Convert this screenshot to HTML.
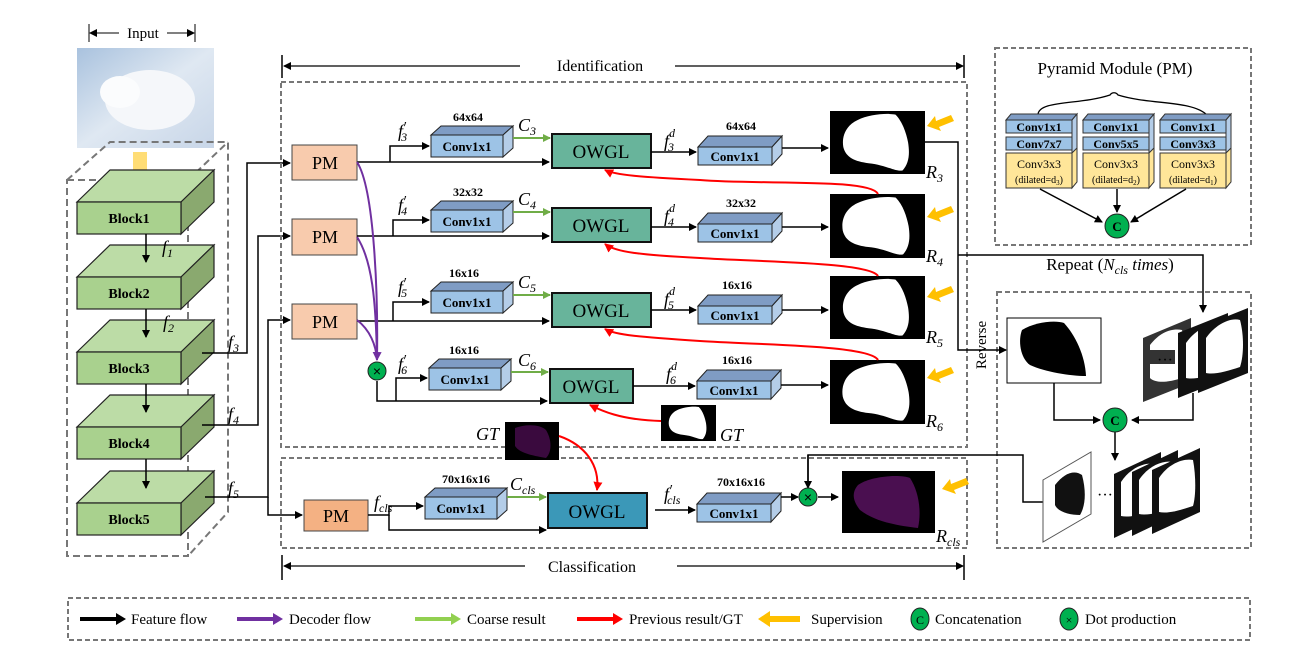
<!DOCTYPE html>
<html><head><meta charset="utf-8"><style>
html,body{margin:0;padding:0;background:#fff;}
svg{display:block;font-family:"Liberation Serif",serif;}
.b{font-family:"Liberation Serif",serif;font-weight:bold;}
</style></head><body>
<svg width="1304" height="666" viewBox="0 0 1304 666" xmlns="http://www.w3.org/2000/svg">
<defs>
<marker id="ak" markerWidth="8" markerHeight="8" refX="7" refY="4" orient="auto-start-reverse" markerUnits="userSpaceOnUse"><path d="M0,0 L8,4 L0,8z" fill="#000"/></marker>
<marker id="ag" markerWidth="8" markerHeight="8" refX="7" refY="4" orient="auto" markerUnits="userSpaceOnUse"><path d="M0,0 L8,4 L0,8z" fill="#70ad47"/></marker>
<marker id="ar" markerWidth="9" markerHeight="9" refX="8" refY="4.5" orient="auto" markerUnits="userSpaceOnUse"><path d="M0,0 L9,4.5 L0,9z" fill="#f00"/></marker>
<marker id="ap" markerWidth="9" markerHeight="9" refX="8" refY="4.5" orient="auto" markerUnits="userSpaceOnUse"><path d="M0,0 L9,4.5 L0,9z" fill="#7030a0"/></marker>
<symbol id="blob" viewBox="0 0 100 70"><path d="M28,10 C40,4 60,2 70,4 C78,12 82,25 84,35 C86,48 85,58 78,66 C70,68 60,60 40,58 C25,56 15,52 12,40 C10,28 15,16 28,10z" fill="#fff"/></symbol>
<symbol id="sup" viewBox="0 0 30 20"><path d="M2,14 L10,4 L11,9 L26,3 L29,9 L14,15 L16,19z" fill="#ffc000"/></symbol>
</defs>

<!-- Input -->
<text x="143" y="38" font-size="15" text-anchor="middle">Input</text>
<line x1="90" y1="33" x2="119" y2="33" stroke="#000" marker-start="url(#ak)"/>
<line x1="167" y1="33" x2="194" y2="33" stroke="#000" marker-end="url(#ak)"/>
<line x1="89" y1="24" x2="89" y2="42" stroke="#000"/><line x1="195" y1="24" x2="195" y2="42" stroke="#000"/>
<defs><linearGradient id="snow" x1="0" y1="0" x2="1" y2="1"><stop offset="0" stop-color="#a9c2de"/><stop offset="0.5" stop-color="#dfe8f2"/><stop offset="1" stop-color="#c8d6e8"/></linearGradient></defs>
<rect x="77" y="48" width="137" height="100" fill="url(#snow)"/>
<ellipse cx="150" cy="100" rx="45" ry="30" fill="#f5f7fa"/>
<ellipse cx="120" cy="92" rx="20" ry="16" fill="#fbfcfd"/>

<!-- backbone dashed 3D box -->
<g stroke="#777" stroke-width="2" stroke-dasharray="7,4" fill="none">
<rect x="67" y="180" width="121" height="376"/>
<path d="M67,180 L110,142 L228,142 L228,512 L188,556 M188,180 L228,142"/>
</g>
<path d="M133,152 h14 v20 h7 l-14,14 l-14,-14 h7z" fill="#ffd966" opacity="0.9"/>

<g stroke="#222" stroke-width="1.2">
<path d="M77,202 L110,170 L214,170 L181,202z" fill="#bcdca6"/><path d="M181,202 L214,170 L214,202 L181,234z" fill="#8aa96f"/><rect x="77" y="202" width="104" height="32" fill="#a9d18e"/>
<path d="M77,277 L110,245 L214,245 L181,277z" fill="#bcdca6"/><path d="M181,277 L214,245 L214,277 L181,309z" fill="#8aa96f"/><rect x="77" y="277" width="104" height="32" fill="#a9d18e"/>
<path d="M77,352 L110,320 L214,320 L181,352z" fill="#bcdca6"/><path d="M181,352 L214,320 L214,352 L181,384z" fill="#8aa96f"/><rect x="77" y="352" width="104" height="32" fill="#a9d18e"/>
<path d="M77,427 L110,395 L214,395 L181,427z" fill="#bcdca6"/><path d="M181,427 L214,395 L214,427 L181,459z" fill="#8aa96f"/><rect x="77" y="427" width="104" height="32" fill="#a9d18e"/>
<path d="M77,503 L110,471 L214,471 L181,503z" fill="#bcdca6"/><path d="M181,503 L214,471 L214,503 L181,535z" fill="#8aa96f"/><rect x="77" y="503" width="104" height="32" fill="#a9d18e"/>
</g>
<g class="b" font-size="14" text-anchor="middle">
<text x="129" y="223">Block1</text><text x="129" y="298">Block2</text><text x="129" y="373">Block3</text><text x="129" y="448">Block4</text><text x="129" y="524">Block5</text>
</g>
<g stroke="#000" stroke-width="1.5">
<line x1="146" y1="234" x2="146" y2="262" marker-end="url(#ak)"/>
<line x1="146" y1="309" x2="146" y2="337" marker-end="url(#ak)"/>
<line x1="146" y1="384" x2="146" y2="412" marker-end="url(#ak)"/>
<line x1="146" y1="459" x2="146" y2="488" marker-end="url(#ak)"/>
</g>
<g font-style="italic" font-size="18">
<text x="162" y="253">f<tspan font-size="12" dy="4">1</tspan></text>
<text x="163" y="328">f<tspan font-size="12" dy="4">2</tspan></text>
<text x="228" y="348">f<tspan font-size="12" dy="4">3</tspan></text>
<text x="228" y="420">f<tspan font-size="12" dy="4">4</tspan></text>
<text x="228" y="494">f<tspan font-size="12" dy="4">5</tspan></text>
</g>
<g stroke="#000" stroke-width="1.5" fill="none">
<path d="M202,353 H247 V163 H290" marker-end="url(#ak)"/>
<path d="M202,425 H258 V236 H290" marker-end="url(#ak)"/>
<path d="M205,497 H268 V320 H290" marker-end="url(#ak)"/>
<path d="M268,497 V515 H302" marker-end="url(#ak)"/>
</g>

<g stroke="#777" stroke-width="2" stroke-dasharray="5,3" fill="none">
<rect x="281" y="82" width="686" height="365"/>
<rect x="281" y="458" width="686" height="90"/>
<rect x="995" y="48" width="256" height="197"/>
<rect x="997" y="292" width="254" height="256"/>
<rect x="68" y="598" width="1182" height="42"/>
</g>
<text x="600" y="71" font-size="16" text-anchor="middle">Identification</text>
<line x1="284" y1="66" x2="520" y2="66" stroke="#000" stroke-width="1.3" marker-start="url(#ak)"/>
<line x1="675" y1="66" x2="963" y2="66" stroke="#000" stroke-width="1.3" marker-end="url(#ak)"/>
<line x1="282" y1="55" x2="282" y2="78" stroke="#000" stroke-width="1.5"/><line x1="964" y1="55" x2="964" y2="78" stroke="#000" stroke-width="1.5"/>
<text x="592" y="572" font-size="16" text-anchor="middle">Classification</text>
<line x1="284" y1="566" x2="525" y2="566" stroke="#000" stroke-width="1.3" marker-start="url(#ak)"/>
<line x1="677" y1="566" x2="963" y2="566" stroke="#000" stroke-width="1.3" marker-end="url(#ak)"/>
<line x1="282" y1="555" x2="282" y2="580" stroke="#000" stroke-width="1.5"/><line x1="964" y1="555" x2="964" y2="580" stroke="#000" stroke-width="1.5"/>

<g stroke="#444" stroke-width="1">
<rect x="292" y="145" width="65" height="35" fill="#f8cbad"/>
<rect x="292" y="219" width="65" height="36" fill="#f8cbad"/>
<rect x="292" y="304" width="65" height="35" fill="#f8cbad"/>
<rect x="304" y="500" width="64" height="31" fill="#f4b183"/>
</g>
<g font-size="18" text-anchor="middle">
<text x="325" y="169">PM</text><text x="325" y="243">PM</text><text x="325" y="328">PM</text><text x="336" y="522">PM</text>
</g>

<g stroke="#111" stroke-width="2">
<rect x="552" y="134" width="99" height="34" fill="#68b49b"/>
<rect x="552" y="208" width="99" height="34" fill="#68b49b"/>
<rect x="552" y="293" width="99" height="34" fill="#68b49b"/>
<rect x="550" y="369" width="83" height="34" fill="#68b49b"/>
<rect x="548" y="493" width="99" height="35" fill="#3b98b8"/>
</g>
<g font-size="19" text-anchor="middle">
<text x="601" y="158">OWGL</text><text x="601" y="232">OWGL</text><text x="601" y="317">OWGL</text><text x="591" y="393">OWGL</text><text x="597" y="518">OWGL</text>
</g>

<g stroke="#222" stroke-width="1">
<path d="M431,135 L441,126 L513,126 L503,135z" fill="#7f9cc4"/><path d="M503,135 L513,126 L513,148 L503,157z" fill="#b4cde8"/><rect x="431" y="135" width="72" height="22" fill="#9dc3e6"/>
<path d="M431,210 L441,201 L513,201 L503,210z" fill="#7f9cc4"/><path d="M503,210 L513,201 L513,223 L503,232z" fill="#b4cde8"/><rect x="431" y="210" width="72" height="22" fill="#9dc3e6"/>
<path d="M431,291 L441,282 L513,282 L503,291z" fill="#7f9cc4"/><path d="M503,291 L513,282 L513,304 L503,313z" fill="#b4cde8"/><rect x="431" y="291" width="72" height="22" fill="#9dc3e6"/>
<path d="M429,368 L439,359 L511,359 L501,368z" fill="#7f9cc4"/><path d="M501,368 L511,359 L511,381 L501,390z" fill="#b4cde8"/><rect x="429" y="368" width="72" height="22" fill="#9dc3e6"/>
<path d="M425,497 L435,488 L507,488 L497,497z" fill="#7f9cc4"/><path d="M497,497 L507,488 L507,510 L497,519z" fill="#b4cde8"/><rect x="425" y="497" width="72" height="22" fill="#9dc3e6"/>
<path d="M698,147 L708,136 L782,136 L772,147z" fill="#7f9cc4"/><path d="M772,147 L782,136 L782,154 L772,165z" fill="#b4cde8"/><rect x="698" y="147" width="74" height="18" fill="#9dc3e6"/>
<path d="M698,224 L708,213 L782,213 L772,224z" fill="#7f9cc4"/><path d="M772,224 L782,213 L782,231 L772,242z" fill="#b4cde8"/><rect x="698" y="224" width="74" height="18" fill="#9dc3e6"/>
<path d="M698,306 L708,295 L782,295 L772,306z" fill="#7f9cc4"/><path d="M772,306 L782,295 L782,313 L772,324z" fill="#b4cde8"/><rect x="698" y="306" width="74" height="18" fill="#9dc3e6"/>
<path d="M697,381 L707,370 L781,370 L771,381z" fill="#7f9cc4"/><path d="M771,381 L781,370 L781,388 L771,399z" fill="#b4cde8"/><rect x="697" y="381" width="74" height="18" fill="#9dc3e6"/>
<path d="M697,504 L707,493 L781,493 L771,504z" fill="#7f9cc4"/><path d="M771,504 L781,493 L781,511 L771,522z" fill="#b4cde8"/><rect x="697" y="504" width="74" height="18" fill="#9dc3e6"/>
</g>
<g class="b" font-size="13" text-anchor="middle">
<text x="467" y="151">Conv1x1</text><text x="467" y="226">Conv1x1</text><text x="467" y="307">Conv1x1</text><text x="465" y="384">Conv1x1</text><text x="461" y="513">Conv1x1</text>
<text x="735" y="161">Conv1x1</text><text x="735" y="238">Conv1x1</text><text x="735" y="320">Conv1x1</text><text x="734" y="395">Conv1x1</text><text x="734" y="518">Conv1x1</text>
<text x="468" y="121" font-size="12">64x64</text><text x="468" y="196" font-size="12">32x32</text><text x="464" y="277" font-size="12">16x16</text><text x="464" y="354" font-size="12">16x16</text><text x="466" y="483" font-size="12">70x16x16</text>
<text x="741" y="130" font-size="12">64x64</text><text x="741" y="207" font-size="12">32x32</text><text x="737" y="289" font-size="12">16x16</text><text x="737" y="364" font-size="12">16x16</text><text x="741" y="486" font-size="12">70x16x16</text>
</g>

<g stroke="#000" stroke-width="1.5" fill="none">
<path d="M357,162 H549" marker-end="url(#ak)"/><path d="M390,162 V146 H429" marker-end="url(#ak)"/>
<path d="M357,236 H549" marker-end="url(#ak)"/><path d="M393,236 V220 H429" marker-end="url(#ak)"/>
<path d="M357,321 H549" marker-end="url(#ak)"/><path d="M393,321 V302 H429" marker-end="url(#ak)"/>
<path d="M377,381 V401 H547" marker-end="url(#ak)"/><path d="M396,401 V378 H427" marker-end="url(#ak)"/>
<path d="M368,515 H389 V506 H423" marker-end="url(#ak)"/><path d="M389,515 V530 H546" marker-end="url(#ak)"/>
<path d="M651,152 H696" marker-end="url(#ak)"/><path d="M651,227 H696" marker-end="url(#ak)"/><path d="M651,310 H696" marker-end="url(#ak)"/><path d="M633,386 H695" marker-end="url(#ak)"/>
<path d="M655,510 H695" marker-end="url(#ak)"/>
<path d="M782,148 H828" marker-end="url(#ak)"/><path d="M782,227 H828" marker-end="url(#ak)"/><path d="M782,310 H828" marker-end="url(#ak)"/><path d="M781,385 H828" marker-end="url(#ak)"/>
<path d="M781,497 H798" marker-end="url(#ak)"/><path d="M818,497 H838" marker-end="url(#ak)"/>
<path d="M925,142 H958 V350 H1006" marker-end="url(#ak)"/>
<path d="M958,255 H1203 V312" marker-end="url(#ak)"/>
<path d="M808,487 V455 H1023 V502 H1045"/>
</g>
<line x1="808" y1="455" x2="808" y2="488" stroke="#000" stroke-width="1.5" marker-end="url(#ak)"/>
<g stroke="#70ad47" stroke-width="2">
<line x1="513" y1="138" x2="550" y2="138" marker-end="url(#ag)"/>
<line x1="513" y1="212" x2="550" y2="212" marker-end="url(#ag)"/>
<line x1="513" y1="295" x2="550" y2="295" marker-end="url(#ag)"/>
<line x1="511" y1="372" x2="548" y2="372" marker-end="url(#ag)"/>
<line x1="507" y1="497" x2="546" y2="497" marker-end="url(#ag)"/>
</g>
<g font-style="italic" font-size="18">
<text x="518" y="131">C<tspan font-size="12" dy="4">3</tspan></text>
<text x="518" y="205">C<tspan font-size="12" dy="4">4</tspan></text>
<text x="518" y="288">C<tspan font-size="12" dy="4">5</tspan></text>
<text x="518" y="366">C<tspan font-size="12" dy="4">6</tspan></text>
<text x="510" y="490">C<tspan font-size="12" dy="4">cls</tspan></text>
<text x="398" y="137">f<tspan font-size="14" dy="-6">′</tspan><tspan font-size="12" dx="-5" dy="10">3</tspan></text>
<text x="398" y="211">f<tspan font-size="14" dy="-6">′</tspan><tspan font-size="12" dx="-5" dy="10">4</tspan></text>
<text x="398" y="293">f<tspan font-size="14" dy="-6">′</tspan><tspan font-size="12" dx="-5" dy="10">5</tspan></text>
<text x="398" y="370">f<tspan font-size="14" dy="-6">′</tspan><tspan font-size="12" dx="-5" dy="10">6</tspan></text>
<text x="374" y="508">f<tspan font-size="12" dy="4">cls</tspan></text>
<text x="664" y="147">f<tspan font-size="12" dy="-10">d</tspan><tspan font-size="12" dx="-7" dy="14">3</tspan></text>
<text x="664" y="222">f<tspan font-size="12" dy="-10">d</tspan><tspan font-size="12" dx="-7" dy="14">4</tspan></text>
<text x="664" y="305">f<tspan font-size="12" dy="-10">d</tspan><tspan font-size="12" dx="-7" dy="14">5</tspan></text>
<text x="666" y="380">f<tspan font-size="12" dy="-10">d</tspan><tspan font-size="12" dx="-7" dy="14">6</tspan></text>
<text x="664" y="500">f<tspan font-size="14" dy="-6">′</tspan><tspan font-size="12" dx="-5" dy="10">cls</tspan></text>
<text x="926" y="178">R<tspan font-size="12" dy="4">3</tspan></text>
<text x="926" y="262">R<tspan font-size="12" dy="4">4</tspan></text>
<text x="926" y="343">R<tspan font-size="12" dy="4">5</tspan></text>
<text x="926" y="427">R<tspan font-size="12" dy="4">6</tspan></text>
<text x="936" y="542">R<tspan font-size="12" dy="4">cls</tspan></text>
<text x="720" y="441">GT</text>
<text x="476" y="440">GT</text>
</g>

<g>
<rect x="830" y="111" width="95" height="63" fill="#000"/><use href="#blob" x="830" y="111" width="95" height="63"/>
<rect x="830" y="194" width="95" height="64" fill="#000"/><use href="#blob" x="830" y="194" width="95" height="64"/>
<rect x="830" y="276" width="95" height="63" fill="#000"/><use href="#blob" x="830" y="276" width="95" height="63"/>
<rect x="830" y="360" width="95" height="64" fill="#000"/><use href="#blob" x="830" y="360" width="95" height="64"/>
<rect x="661" y="405" width="55" height="36" fill="#000"/><use href="#blob" x="661" y="405" width="55" height="36"/>
<rect x="505" y="422" width="54" height="38" fill="#000"/><path d="M515,428 C525,424 540,424 546,430 C552,440 552,452 546,458 C536,456 520,454 515,446z" fill="#3a0a3e"/>
<rect x="842" y="471" width="93" height="62" fill="#000"/><path d="M858,485 C870,476 900,474 910,478 C918,490 922,510 918,528 C900,526 875,522 860,510 C852,500 852,492 858,485z" fill="#4a0f50"/>
</g>
<g>
<use href="#sup" x="925" y="112" width="30" height="20"/>
<use href="#sup" x="925" y="203" width="30" height="20"/>
<use href="#sup" x="925" y="283" width="30" height="20"/>
<use href="#sup" x="925" y="364" width="30" height="20"/>
<use href="#sup" x="940" y="475" width="30" height="20"/>
</g>

<g stroke="#f00" stroke-width="2" fill="none">
<path d="M878,194 C870,178 760,185 700,180 C640,177 615,175 605,170" marker-end="url(#ar)"/>
<path d="M878,276 C870,262 760,262 700,258 C640,255 615,252 605,244" marker-end="url(#ar)"/>
<path d="M878,360 C870,345 760,345 700,341 C640,337 615,335 605,329" marker-end="url(#ar)"/>
<path d="M661,421 C620,420 600,410 590,405" marker-end="url(#ar)"/>
<path d="M559,436 C585,445 600,465 597,490" marker-end="url(#ar)"/>
</g>
<g stroke="#7030a0" stroke-width="2" fill="none">
<path d="M357,162 C375,190 378,300 377,360" marker-end="url(#ap)"/>
<path d="M357,237 C372,260 376,300 377,360"/>
<path d="M357,320 C370,330 376,345 377,360"/>
</g>
<g stroke="#222" stroke-width="1" fill="#00b050">
<circle cx="377" cy="371" r="9"/><circle cx="808" cy="497" r="9"/>
</g>
<g font-size="14" text-anchor="middle" font-family="Liberation Sans, sans-serif"><text x="377" y="376">×</text><text x="808" y="502">×</text></g>

<!-- Pyramid module -->
<text x="1115" y="74" font-size="17" text-anchor="middle">Pyramid Module (PM)</text>
<path d="M1038,115 C1038,100 1080,105 1110,95 C1112,92 1116,92 1118,95 C1150,105 1192,100 1207,115" stroke="#000" stroke-width="1.3" fill="none"/>
<g stroke="#333" stroke-width="1">
<g>
<path d="M1006,120 L1011,114 L1077,114 L1072,120z" fill="#7f9cc4"/><path d="M1072,120 L1077,114 L1077,150 L1072,156 z" fill="#b4cde8"/>
<rect x="1006" y="120" width="66" height="13" fill="#9dc3e6"/><rect x="1006" y="137" width="66" height="13" fill="#9dc3e6"/>
<path d="M1072,153 L1077,148 L1077,182 L1072,188z" fill="#ffe699"/><rect x="1006" y="153" width="66" height="35" fill="#ffe699"/>
</g>
<g>
<path d="M1083,120 L1088,114 L1154,114 L1149,120z" fill="#7f9cc4"/><path d="M1149,120 L1154,114 L1154,150 L1149,156 z" fill="#b4cde8"/>
<rect x="1083" y="120" width="66" height="13" fill="#9dc3e6"/><rect x="1083" y="137" width="66" height="13" fill="#9dc3e6"/>
<path d="M1149,153 L1154,148 L1154,182 L1149,188z" fill="#ffe699"/><rect x="1083" y="153" width="66" height="35" fill="#ffe699"/>
</g>
<g>
<path d="M1160,120 L1165,114 L1231,114 L1226,120z" fill="#7f9cc4"/><path d="M1226,120 L1231,114 L1231,150 L1226,156 z" fill="#b4cde8"/>
<rect x="1160" y="120" width="66" height="13" fill="#9dc3e6"/><rect x="1160" y="137" width="66" height="13" fill="#9dc3e6"/>
<path d="M1226,153 L1231,148 L1231,182 L1226,188z" fill="#ffe699"/><rect x="1160" y="153" width="66" height="35" fill="#ffe699"/>
</g>
</g>
<g font-size="12" text-anchor="middle">
<text class="b" x="1039" y="131">Conv1x1</text><text class="b" x="1039" y="148">Conv7x7</text>
<text class="b" x="1116" y="131">Conv1x1</text><text class="b" x="1116" y="148">Conv5x5</text>
<text class="b" x="1193" y="131">Conv1x1</text><text class="b" x="1193" y="148">Conv3x3</text>
<text x="1039" y="168">Conv3x3</text><text x="1039" y="183" font-size="10">(dilated=d<tspan font-size="7" dy="2">3</tspan><tspan dy="-2">)</tspan></text>
<text x="1116" y="168">Conv3x3</text><text x="1116" y="183" font-size="10">(dilated=d<tspan font-size="7" dy="2">2</tspan><tspan dy="-2">)</tspan></text>
<text x="1193" y="168">Conv3x3</text><text x="1193" y="183" font-size="10">(dilated=d<tspan font-size="7" dy="2">1</tspan><tspan dy="-2">)</tspan></text>
</g>
<g stroke="#000" stroke-width="1.5">
<line x1="1040" y1="189" x2="1102" y2="222" marker-end="url(#ak)"/>
<line x1="1117" y1="189" x2="1117" y2="212" marker-end="url(#ak)"/>
<line x1="1186" y1="189" x2="1131" y2="222" marker-end="url(#ak)"/>
</g>
<circle cx="1117" cy="226" r="12" fill="#00b050" stroke="#222"/>
<text x="1117" y="231" class="b" font-size="13" text-anchor="middle">C</text>

<!-- Repeat -->
<text x="1110" y="270" font-size="17" text-anchor="middle">Repeat (<tspan font-style="italic">N<tspan font-size="12" dy="4">cls</tspan><tspan dy="-4"> times</tspan></tspan>)</text>
<text x="986" y="345" font-size="15" text-anchor="middle" transform="rotate(-90 986 345)">Reverse</text>
<rect x="1007" y="318" width="94" height="65" fill="#fff" stroke="#000"/>
<path d="M1022,330 C1035,322 1055,320 1064,323 C1075,335 1085,355 1086,376 C1070,376 1045,372 1030,365 C1020,358 1018,340 1022,330z" fill="#000"/>
<path d="M1143,338 L1191,318 L1191,383 L1143,402z" fill="#333"/>
<path d="M1150,345 C1160,332 1172,328 1182,330 C1186,345 1186,365 1182,378 C1170,382 1156,384 1150,378z" fill="#fff"/>
<rect x="1150" y="350" width="25" height="14" fill="#333"/>
<path d="M1178,333 L1228,313 L1228,378 L1178,398z" fill="#111"/><path d="M1186,343 C1195,330 1210,322 1220,325 C1224,340 1224,360 1220,372 C1208,376 1194,380 1186,378z" fill="#fff"/>
<path d="M1198,328 L1248,308 L1248,373 L1198,393z" fill="#111"/><path d="M1206,338 C1215,325 1230,317 1240,320 C1244,335 1244,355 1240,367 C1228,371 1214,375 1206,373z" fill="#fff"/>
<text x="1165" y="365" font-size="16" text-anchor="middle">···</text>
<g stroke="#000" stroke-width="1.5" fill="none">
<path d="M1054,383 V420 H1100" marker-end="url(#ak)"/>
<path d="M1193,393 V420 H1132" marker-end="url(#ak)"/>
<line x1="1115" y1="432" x2="1115" y2="460" marker-end="url(#ak)"/>
</g>
<circle cx="1115" cy="420" r="12" fill="#00b050" stroke="#222"/>
<text x="1115" y="425" class="b" font-size="13" text-anchor="middle">C</text>
<path d="M1043,480 L1091,452 L1091,514 L1043,542z" fill="#fff" stroke="#555"/>
<path d="M1055,485 C1065,472 1075,470 1082,475 C1086,490 1086,505 1080,515 C1070,515 1058,512 1055,505z" fill="#111"/>
<text x="1105" y="500" font-size="16" text-anchor="middle">···</text>
<path d="M1114,474 L1161,452 L1161,516 L1114,538z" fill="#111"/><path d="M1121,482 C1130,468 1145,462 1154,464 C1157,480 1157,500 1154,510 C1143,514 1130,518 1121,516z" fill="#fff"/>
<path d="M1132,472 L1178,450 L1178,514 L1132,536z" fill="#111"/><path d="M1139,480 C1148,466 1163,460 1172,462 C1175,478 1175,498 1172,508 C1161,512 1148,516 1139,514z" fill="#fff"/>
<path d="M1152,470 L1200,448 L1200,512 L1152,534z" fill="#111"/><path d="M1159,478 C1168,464 1183,458 1193,460 C1196,476 1196,496 1193,506 C1181,510 1168,514 1159,512z" fill="#fff"/>

<!-- legend -->
<g stroke-width="4">
<line x1="80" y1="619" x2="120" y2="619" stroke="#000"/><path d="M116,613 L126,619 L116,625z" fill="#000"/>
<line x1="237" y1="619" x2="277" y2="619" stroke="#7030a0"/><path d="M273,613 L283,619 L273,625z" fill="#7030a0"/>
<line x1="415" y1="619" x2="455" y2="619" stroke="#92d050"/><path d="M451,613 L461,619 L451,625z" fill="#92d050"/>
<line x1="577" y1="619" x2="617" y2="619" stroke="#f00"/><path d="M613,613 L623,619 L613,625z" fill="#f00"/>
<line x1="768" y1="619" x2="800" y2="619" stroke="#ffc000" stroke-width="6"/><path d="M770,611 L758,619 L770,627z" fill="#ffc000"/>
</g>
<ellipse cx="920" cy="619" rx="9" ry="11" fill="#00b050" stroke="#222"/><text x="920" y="624" font-size="12" text-anchor="middle">C</text>
<ellipse cx="1069" cy="619" rx="9" ry="11" fill="#00b050" stroke="#222"/><text x="1069" y="624" font-size="12" text-anchor="middle">×</text>
<g font-size="15">
<text x="131" y="624">Feature flow</text>
<text x="289" y="624">Decoder flow</text>
<text x="467" y="624">Coarse result</text>
<text x="629" y="624">Previous result/GT</text>
<text x="811" y="624">Supervision</text>
<text x="935" y="624">Concatenation</text>
<text x="1085" y="624">Dot production</text>
</g>
</svg>
</body></html>
